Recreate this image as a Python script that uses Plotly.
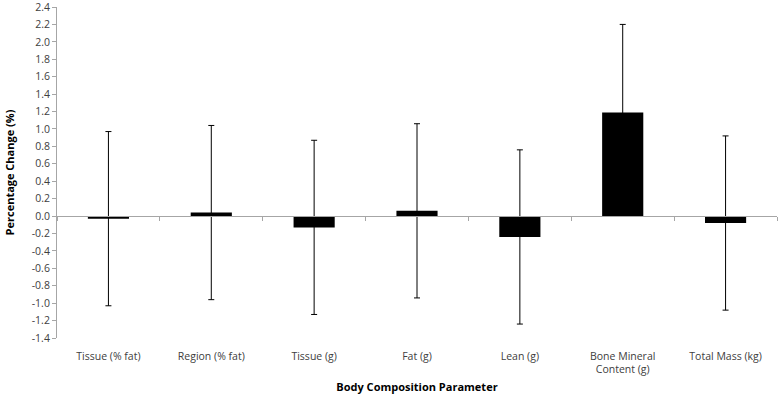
import plotly.graph_objects as go

categories = ["Tissue (% fat)", "Region (% fat)", "Tissue (g)", "Fat (g)", "Lean (g)",
              "Bone Mineral<br>Content (g)", "Total Mass (kg)"]
values = [-0.03, 0.04, -0.13, 0.06, -0.24, 1.19, -0.08]
errors = [1.0, 1.0, 1.0, 1.0, 1.0, 1.01, 1.0]
y_ticks = [-1.4, -1.2, -1.0, -0.8, -0.6, -0.4, -0.2, 0.0, 0.2, 0.4, 0.6, 0.8,
           1.0, 1.2, 1.4, 1.6, 1.8, 2.0, 2.2, 2.4]

y_min, y_max = -1.4, 2.4
zero_pos = (0 - y_min) / (y_max - y_min)
font_family = "Open Sans, Liberation Sans, sans-serif"

fig = go.Figure()
fig.add_trace(go.Bar(
    x=categories, y=values,
    marker=dict(color="black", line=dict(color="black", width=0)),
    error_y=dict(type="data", array=errors, visible=True, color="black",
                 thickness=1, width=3),
    showlegend=False,
))
# invisible helper trace so the zero-positioned axis draws its boundary ticks
fig.add_trace(go.Scatter(
    x=categories, y=values, xaxis="x2", mode="markers",
    marker=dict(opacity=0), hoverinfo="skip", showlegend=False,
))

fig.update_layout(
    width=778, height=394,
    margin=dict(l=57, r=1, t=7, b=56),
    plot_bgcolor="white", paper_bgcolor="white",
    bargap=0.6,
    font=dict(family=font_family, size=10.5, color="#404040"),
    xaxis=dict(
        type="category", categoryorder="array", categoryarray=categories,
        range=[-0.5, 6.5], automargin=False,
        showline=False, showgrid=False, zeroline=False,
        ticks="outside", ticklen=8, tickcolor="rgba(0,0,0,0)",
        tickfont=dict(size=10.5, color="#404040"),
        title=dict(text="<b>Body Composition Parameter</b>",
                   font=dict(size=11, color="#000000"), standoff=10),
    ),
    xaxis2=dict(
        type="category", categoryorder="array", categoryarray=categories,
        range=[-0.5, 6.5], overlaying="x", anchor="free", position=zero_pos,
        showline=True, linecolor="#a6a6a6", linewidth=1, automargin=False,
        ticks="outside", tickson="boundaries", ticklen=4, tickcolor="#a6a6a6",
        showticklabels=False, showgrid=False, zeroline=False,
    ),
    yaxis=dict(
        range=[y_min, y_max], tickmode="array", tickvals=y_ticks,
        ticktext=[f"{v:.1f}" for v in y_ticks],
        automargin=False, ticklabeloverflow="allow",
        showline=True, linecolor="#a6a6a6", linewidth=1,
        ticks="outside", ticklen=4, tickcolor="#a6a6a6",
        showgrid=False, zeroline=False,
        tickfont=dict(size=10.5, color="#404040"),
        title=dict(text="<b>Percentage Change (%)</b>",
                   font=dict(size=11, color="#000000"), standoff=14),
    ),
)

fig.write_html("out.html", config={"displayModeBar": False},
               post_script="document.body.style.margin='0';document.body.style.padding='0';")
